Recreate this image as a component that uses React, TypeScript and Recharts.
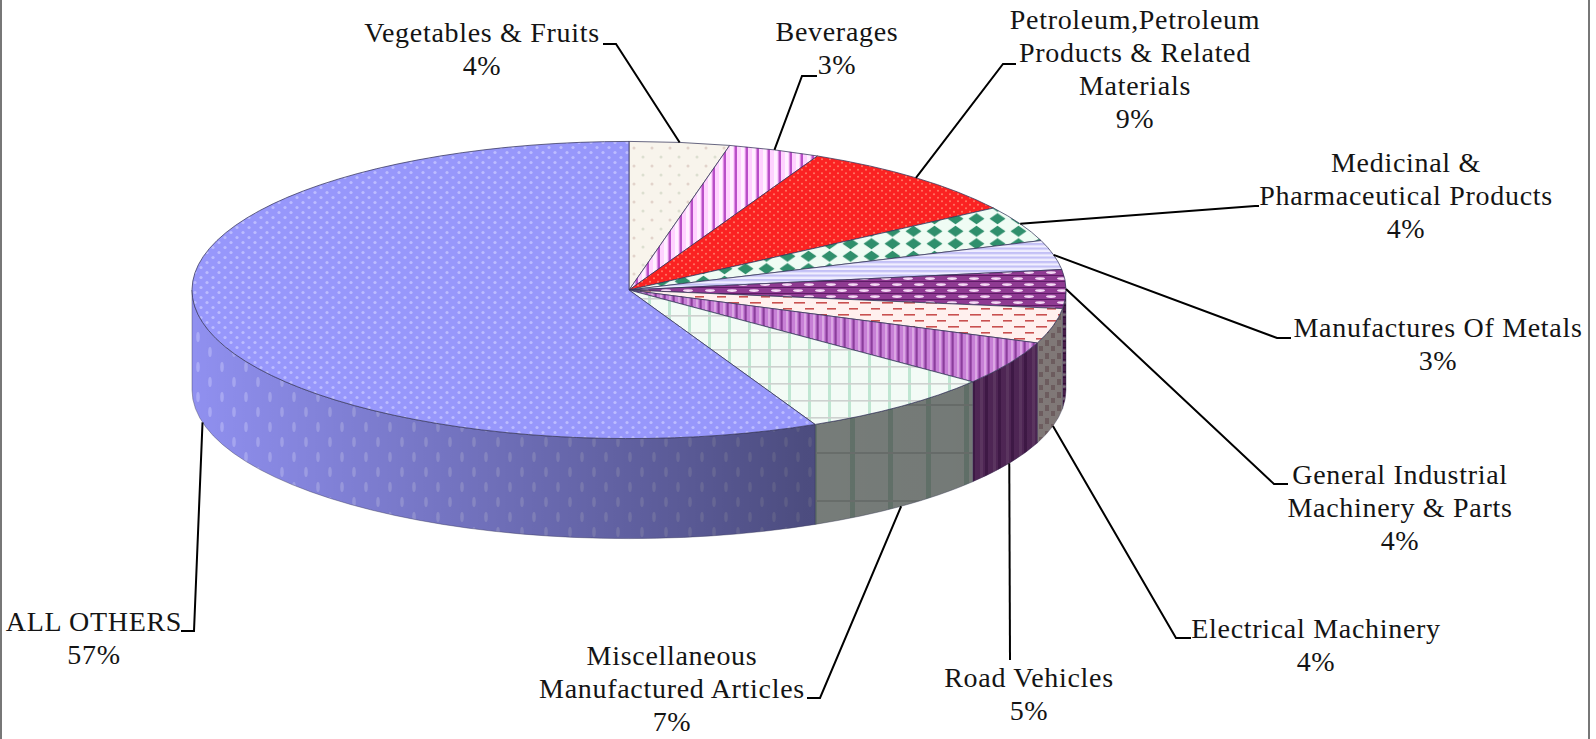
import { PieChart, Pie } from "recharts";

const categories = [
  "Vegetables & Fruits",
  "Beverages",
  "Petroleum,Petroleum Products & Related Materials",
  "Medicinal & Pharmaceutical Products",
  "Manufactures Of Metals",
  "General Industrial Machinery & Parts",
  "Electrical Machinery",
  "Road Vehicles",
  "Miscellaneous Manufactured Articles",
  "ALL OTHERS",
];
// slice sizes; the labels show them rounded
const shares = [3.7, 3.4, 8.6, 3.9, 3.2, 4.2, 3.8, 4.8, 7.4, 57];
const labelLines = [
  ["Vegetables & Fruits"],
  ["Beverages"],
  ["Petroleum,Petroleum", "Products & Related", "Materials"],
  ["Medicinal &", "Pharmaceutical Products"],
  ["Manufactures Of Metals"],
  ["General Industrial", "Machinery & Parts"],
  ["Electrical Machinery"],
  ["Road Vehicles"],
  ["Miscellaneous", "Manufactured Articles"],
  ["ALL OTHERS"],
];
const pieData = categories.map((name, i) => ({ name, value: shares[i] }));

// label placement, kept apart from the values: text centre + leader elbow + leader end
const labelLayout = [
  { x: 482, y: 34, elbow: [616, 44], end: [603, 44] },
  { x: 837, y: 33, elbow: [802, 76], end: [817, 76] },
  { x: 1135, y: 21, elbow: [1003, 64], end: [1016, 64] },
  { x: 1406, y: 164, elbow: [1255, 206], end: [1259, 206] },
  { x: 1438, y: 329, elbow: [1277, 338], end: [1291, 338] },
  { x: 1400, y: 476, elbow: [1274, 484], end: [1288, 484] },
  { x: 1316, y: 630, elbow: [1176, 638], end: [1191, 638] },
  { x: 1029, y: 679, elbow: [1010, 660], end: [1010, 660] },
  { x: 672, y: 657, elbow: [820, 698], end: [807, 698] },
  { x: 94, y: 623, elbow: [194, 631], end: [181, 631] },
];
const topFills = ["veg", "bev", "petro", "med", "metal", "gim", "elec", "road", "misc", "others"];
const wallFills = ["veg", "bev", "petro", "med", "metal", "gim", "elecWall", "roadWall", "miscWall", "othersWall"];

const CX = 629;
const CY = 290;
const R = 437;
const SQUASH = 0.34;
const DEPTH = 100;
const LINE_H = 33;
const FONT = "'Liberation Serif', serif";

// angles here are clockwise degrees from 12 o'clock
function rim(deg: number, drop = 0) {
  const a = (deg * Math.PI) / 180;
  return [CX + R * Math.sin(a), CY - R * SQUASH * Math.cos(a) + drop];
}

function clockwise(p: any) {
  const a = 90 - p.startAngle;
  const b = 90 - p.endAngle;
  return [Math.min(a, b), Math.max(a, b)];
}

function TopSlice(p: any) {
  const [a, b] = clockwise(p);
  const s = rim(a);
  const e = rim(b);
  const large = b - a > 180 ? 1 : 0;
  const d = `M${CX} ${CY}L${s[0]} ${s[1]}A${R} ${R * SQUASH} 0 ${large} 1 ${e[0]} ${e[1]}Z`;
  return (
    <path
      d={d}
      fill={`url(#${topFills[p.index]})`}
      stroke="#35355a"
      strokeOpacity={0.75}
      strokeWidth={1}
      style={{ filter: "blur(0.5px)" }}
    />
  );
}

function WallSlice(p: any) {
  const [a0, b0] = clockwise(p);
  const a = Math.max(a0, 90);
  const b = Math.min(b0, 270);
  if (b <= a) return <g />;
  const s = rim(a);
  const e = rim(b);
  const s2 = rim(a, DEPTH);
  const e2 = rim(b, DEPTH);
  const rx = R;
  const ry = R * SQUASH;
  const d = `M${s[0]} ${s[1]}A${rx} ${ry} 0 0 1 ${e[0]} ${e[1]}L${e2[0]} ${e2[1]}A${rx} ${ry} 0 0 0 ${s2[0]} ${s2[1]}Z`;
  return (
    <g style={{ filter: "blur(0.7px)" }}>
      <path d={d} fill={`url(#${wallFills[p.index]})`} />
      <path d={d} fill="url(#wallShade)" stroke="#34344f" strokeOpacity={0.5} strokeWidth={0.8} />
    </g>
  );
}

function SliceLabel(p: any) {
  const i = p.index;
  const place = labelLayout[i];
  const deg = 90 - p.midAngle;
  const front = deg > 91 && deg < 269;
  const start = rim(deg, front ? DEPTH : 0);
  const lines = [...labelLines[i], `${Math.round(shares[i])}%`];
  return (
    <g>
      <polyline
        points={`${start[0]},${start[1]} ${place.elbow[0]},${place.elbow[1]} ${place.end[0]},${place.end[1]}`}
        fill="none"
        stroke="#000"
        strokeWidth={2}
      />
      {lines.map((t, n) => (
        <text
          key={n}
          x={place.x}
          y={place.y + n * LINE_H + 8}
          textAnchor="middle"
          fontFamily={FONT}
          fontSize={28}
          letterSpacing={0.7}
          fill="#141414"
        >
          {t}
        </text>
      ))}
    </g>
  );
}

function PatternDefs() {
  return (
    <defs>
      <linearGradient id="wallShade" gradientUnits="userSpaceOnUse" x1={192} y1={0} x2={1066} y2={0}>
        <stop offset="0" stopColor="#000" stopOpacity={0.02} />
        <stop offset="0.7" stopColor="#000" stopOpacity={0.48} />
        <stop offset="1" stopColor="#000" stopOpacity={0.5} />
      </linearGradient>

      <pattern id="others" patternUnits="userSpaceOnUse" width={12} height={10}>
        <rect width={12} height={10} fill="#9797fb" />
        <circle cx={3} cy={2.5} r={1.6} fill="#bcbcff" />
        <circle cx={9} cy={7.5} r={1.6} fill="#bcbcff" />
      </pattern>
      <pattern id="othersWall" patternUnits="userSpaceOnUse" width={24} height={30}>
        <rect width={24} height={30} fill="#9393f5" />
        <ellipse cx={6} cy={7} rx={1.8} ry={5} fill="#aeaefc" />
        <ellipse cx={18} cy={22} rx={1.8} ry={5} fill="#aeaefc" />
      </pattern>

      <pattern id="veg" patternUnits="userSpaceOnUse" width={18} height={18}>
        <rect width={18} height={18} fill="#f8f4ec" />
        <circle cx={4} cy={4} r={1.5} fill="#e2d3cb" />
        <circle cx={13} cy={13} r={1.5} fill="#dcdfd0" />
      </pattern>
      <pattern id="bev" patternUnits="userSpaceOnUse" width={11} height={10}>
        <rect width={11} height={10} fill="#ffd2ff" />
        <rect x={4} width={3} height={10} fill="#fff0ff" />
        <rect x={8.5} width={2.5} height={10} fill="#b94fc8" />
      </pattern>
      <pattern id="petro" patternUnits="userSpaceOnUse" width={8} height={7}>
        <rect width={8} height={7} fill="#fb2222" />
        <circle cx={2} cy={1.8} r={1} fill="#ff7a66" />
        <circle cx={6} cy={5.2} r={1} fill="#ff7a66" />
      </pattern>
      <pattern id="med" patternUnits="userSpaceOnUse" width={21} height={12.5}>
        <rect width={21} height={12.5} fill="#effcf4" />
        <polygon points="10.5,0.8 18.5,6.2 10.5,11.7 2.5,6.2" fill="#2f8f6c" />
      </pattern>
      <pattern id="metal" patternUnits="userSpaceOnUse" width={8} height={4.5}>
        <rect width={8} height={4.5} fill="#f0eeff" />
        <rect y={0} width={8} height={2.2} fill="#c3c0f6" />
      </pattern>
      <pattern id="gim" patternUnits="userSpaceOnUse" width={22} height={12}>
        <rect width={22} height={12} fill="#8f3a92" />
        <rect y={5} width={22} height={1} fill="#5e1c66" />
        <rect y={11} width={22} height={1} fill="#5e1c66" />
        <ellipse cx={6} cy={2.6} rx={5} ry={1.4} fill="#f4d8f4" />
        <ellipse cx={17} cy={8.6} rx={5} ry={1.4} fill="#f4d8f4" />
      </pattern>
      <pattern id="elec" patternUnits="userSpaceOnUse" width={22} height={12}>
        <rect width={22} height={12} fill="#fff0ee" />
        <rect x={2} y={2} width={11} height={1.6} fill="#c9504f" />
        <rect x={13} y={8} width={11} height={1.6} fill="#c9504f" />
      </pattern>
      <pattern id="elecWall" patternUnits="userSpaceOnUse" width={12} height={13}>
        <rect width={12} height={13} fill="#fff0ee" />
        <rect x={1} y={2} width={4} height={6} fill="#d8b8bc" />
        <rect x={7} y={8} width={4} height={5} fill="#d8b8bc" />
      </pattern>
      <pattern id="road" patternUnits="userSpaceOnUse" width={9} height={10}>
        <rect width={9} height={10} fill="#c77fd6" />
        <rect x={3} width={2} height={10} fill="#dba6e4" />
        <rect x={6.5} width={2.2} height={10} fill="#8b3d9c" />
      </pattern>
      <pattern id="roadWall" patternUnits="userSpaceOnUse" width={13} height={10}>
        <rect width={13} height={10} fill="#9a4aa6" />
        <rect x={5} width={3} height={10} fill="#b368bc" />
        <rect x={10} width={3} height={10} fill="#7a3088" />
      </pattern>
      <pattern id="misc" patternUnits="userSpaceOnUse" width={20} height={17}>
        <rect width={20} height={17} fill="#f3fbf6" />
        <rect x={8} width={3} height={17} fill="#bfe6d2" />
        <rect y={9} width={20} height={1.6} fill="#cdd1cf" />
      </pattern>
      <pattern id="miscWall" patternUnits="userSpaceOnUse" width={38} height={48}>
        <rect width={38} height={48} fill="#e4efe9" />
        <rect x={14} width={5} height={48} fill="#bcd9ca" />
        <rect y={20} width={38} height={2} fill="#c8d2cd" />
      </pattern>
    </defs>
  );
}

export default function App() {
  return (
    <div style={{ position: "absolute", left: 0, top: 0, width: 1596, height: 739, background: "#fff" }}>
      <div
        style={{
          position: "absolute",
          left: 0,
          top: 0,
          width: 1590,
          height: 739,
          boxSizing: "border-box",
          borderLeft: "2px solid #777",
          borderRight: "2px solid #777",
        }}
      />
      <div style={{ position: "absolute", left: 0, top: 0 }}>
        <PieChart width={1596} height={739} margin={{ top: 0, right: 0, bottom: 0, left: 0 }}>
          <PatternDefs />
          <Pie
            data={pieData}
            dataKey="value"
            cx={CX}
            cy={CY}
            outerRadius={R}
            startAngle={90}
            endAngle={-270}
            shape={WallSlice}
            isAnimationActive={false}
            label={false}
            labelLine={false}
          />
          <Pie
            data={pieData}
            dataKey="value"
            cx={CX}
            cy={CY}
            outerRadius={R}
            startAngle={90}
            endAngle={-270}
            shape={TopSlice}
            isAnimationActive={false}
            label={SliceLabel}
            labelLine={false}
          />
        </PieChart>
      </div>
    </div>
  );
}
